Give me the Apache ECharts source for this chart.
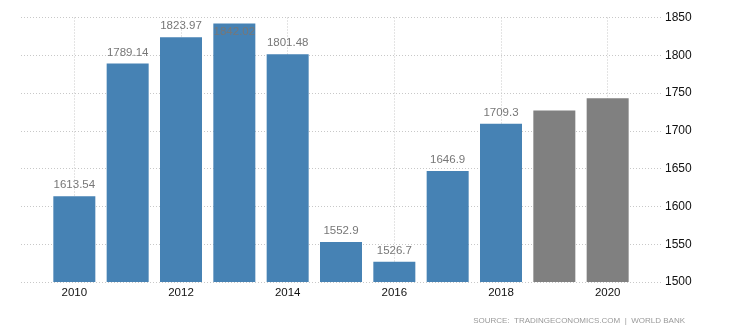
<!DOCTYPE html>
<html>
<head>
<meta charset="utf-8">
<script src="https://cdn.jsdelivr.net/npm/echarts@6/dist/echarts.min.js"></script>
<style>
  html, body { margin: 0; padding: 0; background: #fff; }
  #chart { width: 734px; height: 334px; }
</style>
</head>
<body>
<div id="chart"></div>
<script>
// Yearly values, 2010-2020: reported figures followed by forecast years
const years = [2010, 2011, 2012, 2013, 2014, 2015, 2016, 2017, 2018, 2019, 2020];
const actualValues = [1613.54, 1789.14, 1823.97, 1842.02, 1801.48, 1552.9, 1526.7, 1646.9, 1709.3];
const forecastValues = [1727, 1743];
const yTicks = [1500, 1550, 1600, 1650, 1700, 1750, 1800, 1850];

const BLUE = '#4682b4';
const GREY = '#808080';
const LABEL_GREY = '#777';

// One empty slot on each side so the grid runs past the outer bars
const axisYears = [years[0] - 1, ...years, years[years.length - 1] + 1].map(String);

const seriesData = ['-'];
actualValues.forEach(v => {
  const inside = v > 1830; // the tallest bar keeps its label inside the plot
  seriesData.push({
    value: v,
    itemStyle: { color: BLUE },
    label: {
      show: true,
      position: inside ? 'insideTop' : 'top',
      distance: inside ? 2 : 5,
      color: LABEL_GREY,
      fontFamily: 'Liberation Sans, Arial, sans-serif',
      fontSize: 11.5
    }
  });
});
forecastValues.forEach(v => {
  seriesData.push({ value: v, itemStyle: { color: GREY }, label: { show: false } });
});
seriesData.push('-');

const evenYear = (idx, val) => Number(val) % 2 === 0;

const chart = echarts.init(document.getElementById('chart'), null, { renderer: 'canvas' });
chart.setOption({
  animation: false,
  backgroundColor: '#fff',
  grid: { left: 21, right: 73, top: 17.5, bottom: 52, containLabel: false },
  xAxis: {
    type: 'category',
    data: axisYears,
    boundaryGap: false,
    axisLine: { show: false },
    axisTick: { show: false },
    axisLabel: {
      interval: evenYear,
      margin: 5,
      color: '#111',
      fontFamily: 'Liberation Sans, Arial, sans-serif',
      fontSize: 11.5
    },
    splitLine: {
      show: true,
      interval: evenYear,
      lineStyle: { color: '#c8c8c8', type: [1, 2], width: 1 }
    }
  },
  yAxis: {
    type: 'value',
    position: 'right',
    min: yTicks[0],
    max: yTicks[yTicks.length - 1],
    interval: 50,
    axisLine: { show: false },
    axisTick: { show: false },
    axisLabel: {
      margin: 4,
      color: '#111',
      formatter: v => String(v),
      fontFamily: 'Liberation Sans, Arial, sans-serif',
      fontSize: 12
    },
    splitLine: {
      show: true,
      lineStyle: { color: '#c8c8c8', type: [1, 2], width: 1 }
    }
  },
  series: [{
    type: 'bar',
    data: seriesData,
    barWidth: 42
  }],
  graphic: [{
    type: 'text',
    right: 49,
    top: 317,
    style: {
      text: 'SOURCE:  TRADINGECONOMICS.COM  |  WORLD BANK',
      fill: '#999',
      font: '8px "Liberation Sans", Arial, sans-serif'
    }
  }]
});
</script>
</body>
</html>
